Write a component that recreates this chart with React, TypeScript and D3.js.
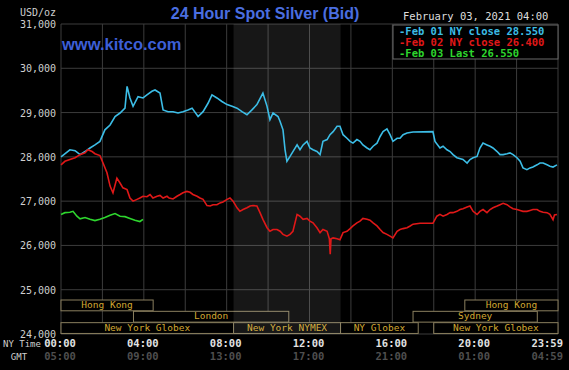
import * as d3 from 'd3';

// hour of NY day, price (USD/oz)
const feb01Close: [number, number][] = [
  [0, 28000], [0.43, 28160], [0.68, 28140], [0.92, 28050], [1.16, 28120], [1.4, 28200],
  [1.64, 28270], [1.88, 28350], [2.12, 28610], [2.37, 28720], [2.61, 28910], [2.85, 28990],
  [3.09, 29100], [3.19, 29590], [3.33, 29330], [3.48, 29140], [3.72, 29360], [3.96, 29330],
  [4.15, 29400], [4.39, 29480], [4.54, 29510], [4.78, 29440], [4.93, 29060], [5.17, 29020],
  [5.41, 29020], [5.65, 28990], [5.89, 29020], [6.13, 29060], [6.33, 29100], [6.62, 28910],
  [6.86, 29020], [7.1, 29210], [7.29, 29400], [7.53, 29330], [7.77, 29250], [8.02, 29180],
  [8.26, 29140], [8.5, 29100], [8.74, 29020], [8.98, 28950], [9.22, 29060], [9.46, 29180],
  [9.75, 29440], [9.95, 29140], [10.09, 28840], [10.24, 28990], [10.48, 28910], [10.58, 28800],
  [10.72, 28610], [10.82, 28160], [10.91, 27900], [11.06, 28010], [11.2, 28120], [11.4, 28270],
  [11.54, 28160], [11.69, 28270], [11.88, 28350], [12.02, 28200], [12.17, 28160], [12.36, 28120],
  [12.51, 28050], [12.65, 28350], [12.85, 28390], [12.99, 28500], [13.14, 28570], [13.33, 28690],
  [13.47, 28690], [13.62, 28500], [13.81, 28420], [13.96, 28350], [14.1, 28310], [14.29, 28390],
  [14.44, 28350], [14.58, 28270], [14.78, 28200], [14.92, 28160], [15.07, 28240], [15.26, 28310],
  [15.41, 28460], [15.55, 28570], [15.74, 28630], [15.89, 28500], [16.03, 28350], [16.23, 28420],
  [16.37, 28420], [16.52, 28500], [16.71, 28540], [17.0, 28560], [17.96, 28570], [18.06, 28350],
  [18.3, 28200], [18.45, 28240], [18.64, 28160], [18.79, 28120], [18.93, 28050], [19.12, 27980],
  [19.41, 27940], [19.61, 27860], [19.75, 27940], [19.9, 27980], [20.09, 28010], [20.23, 28200],
  [20.38, 28310], [20.57, 28270], [20.72, 28240], [20.86, 28200], [21.06, 28120], [21.2, 28050],
  [21.35, 28050], [21.54, 28070], [21.68, 28090], [21.83, 28050], [22.02, 27980], [22.17, 27900],
  [22.31, 27750], [22.5, 27710], [22.65, 27750], [22.79, 27770], [22.99, 27820], [23.13, 27860],
  [23.28, 27860], [23.47, 27820], [23.61, 27790], [23.76, 27770], [23.95, 27820],
];

const feb02Close: [number, number][] = [
  [0, 27820], [0.19, 27900], [0.43, 27940], [0.68, 27980], [0.92, 28050], [1.16, 28090],
  [1.3, 28160], [1.5, 28120], [1.64, 28070], [1.88, 28030], [2.03, 27860], [2.22, 27640],
  [2.37, 27340], [2.51, 27190], [2.7, 27520], [2.85, 27410], [2.99, 27300], [3.19, 27260],
  [3.33, 27070], [3.48, 27000], [3.67, 27040], [3.81, 27070], [3.96, 27110], [4.15, 27100],
  [4.3, 27150], [4.44, 27070], [4.64, 27110], [4.78, 27130], [4.93, 27070], [5.12, 27110],
  [5.22, 27070], [5.41, 27050], [5.6, 27110], [5.75, 27150], [5.89, 27190], [6.08, 27220],
  [6.23, 27200], [6.37, 27150], [6.57, 27110], [6.71, 27070], [6.86, 27040], [7.05, 26900],
  [7.2, 26890], [7.34, 26920], [7.53, 26920], [7.68, 26960], [7.82, 26980], [8.02, 27040],
  [8.16, 27070], [8.31, 27000], [8.5, 26850], [8.64, 26770], [8.79, 26810], [8.98, 26850],
  [9.13, 26890], [9.27, 26900], [9.46, 26890], [9.61, 26740], [9.75, 26590], [9.95, 26400],
  [10.09, 26320], [10.24, 26360], [10.43, 26360], [10.58, 26320], [10.72, 26250], [10.91, 26210],
  [11.06, 26250], [11.2, 26320], [11.4, 26700], [11.54, 26660], [11.69, 26590], [11.88, 26610],
  [12.02, 26550], [12.17, 26510], [12.36, 26400], [12.51, 26290], [12.65, 26360], [12.85, 26320],
  [12.96, 26150], [13.0, 25800], [13.04, 26150], [13.14, 26170], [13.33, 26150], [13.47, 26130],
  [13.62, 26290], [13.81, 26320], [13.96, 26380], [14.1, 26440], [14.29, 26510], [14.44, 26550],
  [14.58, 26610], [14.78, 26590], [14.92, 26570], [15.07, 26510], [15.26, 26440], [15.41, 26360],
  [15.55, 26290], [15.74, 26250], [15.89, 26210], [16.03, 26170], [16.23, 26320], [16.37, 26360],
  [16.52, 26380], [16.71, 26400], [16.86, 26440], [17.0, 26480], [17.34, 26500], [17.96, 26500],
  [18.15, 26660], [18.3, 26700], [18.45, 26660], [18.64, 26700], [18.79, 26740], [18.93, 26740],
  [19.12, 26770], [19.27, 26810], [19.41, 26830], [19.61, 26870], [19.75, 26890], [19.9, 26770],
  [20.09, 26700], [20.23, 26770], [20.38, 26810], [20.57, 26740], [20.72, 26810], [20.86, 26850],
  [21.06, 26890], [21.2, 26920], [21.35, 26950], [21.54, 26920], [21.68, 26870], [21.83, 26830],
  [22.02, 26810], [22.17, 26790], [22.31, 26770], [22.5, 26770], [22.65, 26790], [22.79, 26810],
  [22.99, 26810], [23.13, 26770], [23.28, 26750], [23.47, 26740], [23.61, 26700], [23.76, 26580],
  [23.83, 26690], [23.95, 26700],
];

const feb03Last: [number, number][] = [
  [0, 26700], [0.19, 26740], [0.43, 26750], [0.58, 26770], [0.77, 26660], [0.92, 26600],
  [1.16, 26630], [1.4, 26590], [1.64, 26560], [1.88, 26590], [2.12, 26630], [2.37, 26680],
  [2.61, 26720], [2.85, 26660], [3.09, 26650], [3.33, 26610], [3.57, 26570], [3.81, 26540],
  [3.96, 26590],
];

const yTicks = [24000, 25000, 26000, 27000, 28000, 29000, 30000, 31000];
const gridHours = [0, 2, 4, 6, 8, 10, 12, 14, 16, 18, 20, 22, 24];
const nyLabels = ['00:00', '04:00', '08:00', '12:00', '16:00', '20:00', '23:59'];
const gmtLabels = ['05:00', '09:00', '13:00', '17:00', '21:00', '01:00', '04:59'];
const labelHours = [0, 4, 8, 12, 16, 20, 24];

const legendItems = [
  { text: 'Feb 01 NY close 28.550', color: '#3cbde6' },
  { text: 'Feb 02 NY close 26.400', color: '#e01818' },
  { text: 'Feb 03 Last 26.550', color: '#2ed62e' },
];

const nymexHours = [8.333, 13.5];

const sessions = [
  { name: 'Hong Kong', start: 0, end: 4.45, row: 0 },
  { name: 'London', start: 3.5, end: 11, row: 1 },
  { name: 'New York Globex', start: 0, end: 8.333, row: 2 },
  { name: 'New York NYMEX', start: 8.333, end: 13.5, row: 2 },
  { name: 'NY Globex', start: 13.5, end: 17.25, row: 2 },
  { name: 'New York Globex', start: 18, end: 24, row: 2 },
  { name: 'Sydney', start: 17, end: 23, row: 1 },
  { name: 'Hong Kong', start: 19.5, end: 24, row: 0 },
];

const W = 569;
const H = 370;
const mono = '"DejaVu Sans Mono", monospace';

export default function App() {
  const x = d3.scaleLinear().domain([0, 24]).range([61, 558]);
  const y = d3.scaleLinear().domain([24000, 31000]).range([334, 24]);
  const line = d3
    .line<[number, number]>()
    .x((d) => x(d[0]))
    .y((d) => y(d[1]));

  const rowTop = (r: number) => 300 + r * 11.33;

  return (
    <svg
      width={W}
      height={H}
      style={{ position: 'absolute', left: 0, top: 0, display: 'block' }}
    >
      <rect width={W} height={H} fill="#000" />

      {/* grid */}
      {yTicks.map((t) => (
        <line key={'h' + t} x1={x(0)} x2={x(24)} y1={y(t)} y2={y(t)} stroke="#3c3c3c" />
      ))}
      {gridHours.map((h) => (
        <line key={'v' + h} x1={x(h)} x2={x(h)} y1={y(31000)} y2={y(24000)} stroke="#3c3c3c" />
      ))}

      {/* session boxes */}
      {sessions.map((s, i) => (
        <g key={'s' + i}>
          <rect
            x={x(s.start)}
            y={rowTop(s.row)}
            width={x(s.end) - x(s.start)}
            height={10.8}
            fill="#000"
            stroke="#8a7f5e"
          />
          <text
            x={(x(s.start) + x(s.end)) / 2}
            y={rowTop(s.row) + 5.6}
            dominantBaseline="middle"
            textAnchor="middle"
            fill="#d2a832"
            fontFamily={mono}
            fontSize={9.5}
          >
            {s.name}
          </text>
        </g>
      ))}

      {/* NYMEX pit hours */}
      <rect
        x={x(nymexHours[0])}
        y={y(31000)}
        width={x(nymexHours[1]) - x(nymexHours[0])}
        height={y(24000) - y(31000)}
        fill="#fff"
        opacity={0.09}
      />

      {/* series */}
      <path d={line(feb01Close) ?? ''} fill="none" stroke="#3cbde6" strokeWidth={1.6} />
      <path d={line(feb02Close) ?? ''} fill="none" stroke="#e01818" strokeWidth={1.6} />
      <path d={line(feb03Last) ?? ''} fill="none" stroke="#2ed62e" strokeWidth={1.6} />

      {/* y axis */}
      <text x={56} y={13} textAnchor="end" dominantBaseline="middle" fill="#cfcfcf" fontFamily={mono} fontSize={10}>
        USD/oz
      </text>
      {yTicks.map((t) => (
        <text
          key={'yl' + t}
          x={56}
          y={y(t) + 1}
          textAnchor="end"
          dominantBaseline="middle"
          fill="#cfcfcf"
          fontFamily={mono}
          fontSize={10}
        >
          {d3.format(',')(t)}
        </text>
      ))}

      {/* x axis */}
      <text x={3} y={344} dominantBaseline="middle" fill="#cfcfcf" fontFamily={mono} fontSize={9}>
        NY Time
      </text>
      <text x={19} y={357} textAnchor="middle" dominantBaseline="middle" fill="#cfcfcf" fontFamily={mono} fontSize={9}>
        GMT
      </text>
      {labelHours.map((h, i) => {
        const last = i === labelHours.length - 1;
        return (
          <g key={'xl' + h}>
            <text
              x={last ? x(h) + 5 : x(h) - 1}
              y={344}
              textAnchor={last ? 'end' : 'middle'}
              dominantBaseline="middle"
              fill="#e2e2e2"
              fontFamily={mono}
              fontWeight="bold"
              fontSize={10.5}
            >
              {nyLabels[i]}
            </text>
            <text
              x={last ? x(h) + 5 : x(h) - 1}
              y={357}
              textAnchor={last ? 'end' : 'middle'}
              dominantBaseline="middle"
              fill="#4e4e4e"
              fontFamily={mono}
              fontWeight="bold"
              fontSize={10.5}
            >
              {gmtLabels[i]}
            </text>
          </g>
        );
      })}

      {/* titles */}
      <text
        x={265}
        y={19}
        textAnchor="middle"
        fill="#4a6ee0"
        fontFamily="'Liberation Sans', Arial, sans-serif"
        fontWeight="bold"
        fontSize={16}
      >
        24 Hour Spot Silver (Bid)
      </text>
      <text
        x={62}
        y={50}
        fill="#3d5fd6"
        fontFamily="'Liberation Sans', Arial, sans-serif"
        fontWeight="bold"
        fontSize={16.5}
      >
        www.kitco.com
      </text>
      <text x={403} y={17} fill="#dedede" fontFamily={mono} fontSize={10.5} dominantBaseline="middle">
        February 03, 2021 04:00
      </text>

      {/* legend */}
      <rect x={393} y={25} width={165} height={34} fill="#000" stroke="#6a6a6a" />
      {legendItems.map((it, i) => (
        <text
          key={'lg' + i}
          x={399}
          y={31.5 + i * 11}
          dominantBaseline="middle"
          fill={it.color}
          fontFamily={mono}
          fontWeight="bold"
          fontSize={10.5}
        >
          {'-' + it.text}
        </text>
      ))}
    </svg>
  );
}
